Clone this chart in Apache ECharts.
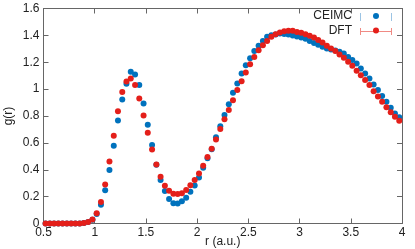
<!DOCTYPE html>
<html>
<head>
<meta charset="utf-8">
<script src="https://cdn.jsdelivr.net/npm/echarts@6/dist/echarts.min.js"></script>
<style>
html,body{margin:0;padding:0;background:#fff;}
#c{width:415px;height:249px;}
</style>
</head>
<body>
<div id="c"></div>
<script>
// r values (a.u.)
const r = [
0.520,0.562,0.603,0.645,0.686,0.728,0.770,0.811,0.853,0.894,
0.936,0.978,1.019,1.061,1.102,1.144,1.186,1.227,1.269,1.310,
1.352,1.394,1.435,1.477,1.518,1.560,1.602,1.643,1.685,1.726,
1.768,1.810,1.851,1.893,1.934,1.976,2.018,2.059,2.101,2.142,
2.184,2.226,2.267,2.309,2.350,2.392,2.434,2.475,2.517,2.558,
2.600,2.642,2.683,2.725,2.766,2.808,2.850,2.891,2.933,2.974,
3.016,3.058,3.099,3.141,3.182,3.224,3.266,3.307,3.349,3.390,
3.432,3.474,3.515,3.557,3.598,3.640,3.682,3.723,3.765,3.806,
3.848,3.890,3.931,3.973];
const ceimc = [
0,0,0,0,0,0,0,0,0,0.003,
0.012,0.028,0.07,0.14,0.247,0.398,0.579,0.767,0.923,1.04,
1.129,1.109,1.03,0.893,0.735,0.584,0.437,0.323,0.242,0.182,
0.151,0.149,0.166,0.192,0.237,0.283,0.342,0.415,0.485,0.553,
0.641,0.723,0.807,0.888,0.973,1.042,1.117,1.178,1.23,1.283,
1.322,1.359,1.389,1.401,1.406,1.414,1.411,1.406,1.399,1.391,
1.384,1.374,1.359,1.344,1.33,1.315,1.302,1.295,1.287,1.278,
1.265,1.24,1.216,1.191,1.154,1.116,1.079,1.035,0.993,0.948,
0.906,0.861,0.819,0.79];
const dft = [
0,0,0,0,0,0,0,0,0,0.003,
0.012,0.03,0.076,0.16,0.29,0.462,0.653,0.836,0.978,1.057,
1.079,1.03,0.931,0.804,0.675,0.551,0.44,0.348,0.281,0.244,
0.222,0.219,0.226,0.249,0.284,0.323,0.373,0.43,0.495,0.556,
0.626,0.703,0.775,0.844,0.918,0.993,1.059,1.124,1.186,1.24,
1.29,1.327,1.359,1.389,1.409,1.421,1.431,1.434,1.434,1.426,
1.419,1.409,1.397,1.384,1.365,1.347,1.322,1.302,1.283,1.258,
1.233,1.203,1.174,1.136,1.104,1.067,1.03,0.985,0.946,0.906,
0.866,0.827,0.794,0.765];
const seriesNames = ['CEIMC','DFT'];
const xTicks = {min:0.5, max:4, step:0.5};
const yTicks = {min:0, max:1.6, step:0.2};

const BLUE = '#0072bd', RED = '#e41f1a';
const FONT = 'Liberation Sans';
const axisCol = '#666';

const chart = echarts.init(document.getElementById('c'), null, {renderer:'canvas'});
const pair = (xs, ys) => xs.map((x,i)=>[x, ys[i]]);

const xBase = {
  type:'value', min:xTicks.min, max:xTicks.max, interval:xTicks.step,
  axisLine:{show:true, onZero:false, lineStyle:{color:axisCol, width:1}},
  axisTick:{show:true, inside:true, length:5, lineStyle:{color:axisCol}},
  splitLine:{show:false}
};
const yBase = {
  type:'value', min:yTicks.min, max:yTicks.max, interval:yTicks.step,
  axisLine:{show:true, onZero:false, lineStyle:{color:axisCol, width:1}},
  axisTick:{show:true, inside:true, length:5, lineStyle:{color:axisCol}},
  splitLine:{show:false}
};
const legendBase = {
  orient:'horizontal', align:'right',
  itemWidth:6, itemHeight:6, itemGap:0, padding:0,
  textStyle:{fontSize:12, color:'#222', fontFamily:FONT, width:50, align:'right', padding:[0,16,0,0]},
  icon:'circle', z:10
};

chart.setOption({
  animation:false,
  textStyle:{fontFamily:FONT},
  grid:{left:43.5, right:13, top:8.5, bottom:25.5, containLabel:false, outerBoundsMode:'none'},
  xAxis:[
    Object.assign({}, xBase, {position:'bottom',
      name:'r (a.u.)', nameLocation:'middle', nameGap:12, nameMoveOverlap:false,
      nameTextStyle:{color:'#222', fontSize:12, fontFamily:FONT},
      axisLabel:{color:'#222', fontSize:12, margin:3, fontFamily:FONT}}),
    Object.assign({}, xBase, {position:'top', axisLabel:{show:false}})
  ],
  yAxis:[
    Object.assign({}, yBase, {position:'left',
      name:'g(r)', nameLocation:'middle', nameGap:29, nameRotate:90, nameMoveOverlap:false,
      nameTextStyle:{color:'#222', fontSize:12, fontFamily:FONT},
      axisLabel:{color:'#222', fontSize:12, margin:4, fontFamily:FONT}}),
    Object.assign({}, yBase, {position:'right', axisLabel:{show:false}})
  ],
  legend:[
    Object.assign({}, legendBase, {right:36, top:10, data:[seriesNames[0]]}),
    Object.assign({}, legendBase, {right:36, top:24.5, data:[seriesNames[1]]})
  ],
  graphic:[
    {type:'line', z:1, shape:{x1:360.5,y1:13,x2:360.5,y2:21}, style:{stroke:'#9cc4e4', lineWidth:1}},
    {type:'line', z:1, shape:{x1:391.5,y1:13,x2:391.5,y2:21}, style:{stroke:'#9cc4e4', lineWidth:1}},
    {type:'line', z:1, shape:{x1:360,y1:31.5,x2:392,y2:31.5}, style:{stroke:'#f08a84', lineWidth:1}},
    {type:'line', z:1, shape:{x1:360.5,y1:28,x2:360.5,y2:35}, style:{stroke:'#f08a84', lineWidth:1}},
    {type:'line', z:1, shape:{x1:391.5,y1:28,x2:391.5,y2:35}, style:{stroke:'#f08a84', lineWidth:1}}
  ],
  series:[
    {name:seriesNames[0], type:'scatter', data:pair(r, ceimc), symbol:'circle', symbolSize:6,
     itemStyle:{color:BLUE, opacity:1}, clip:false, z:2},
    {name:seriesNames[1], type:'scatter', data:pair(r, dft), symbol:'circle', symbolSize:6,
     itemStyle:{color:RED, opacity:1}, clip:false, z:3}
  ]
});
</script>
</body>
</html>
